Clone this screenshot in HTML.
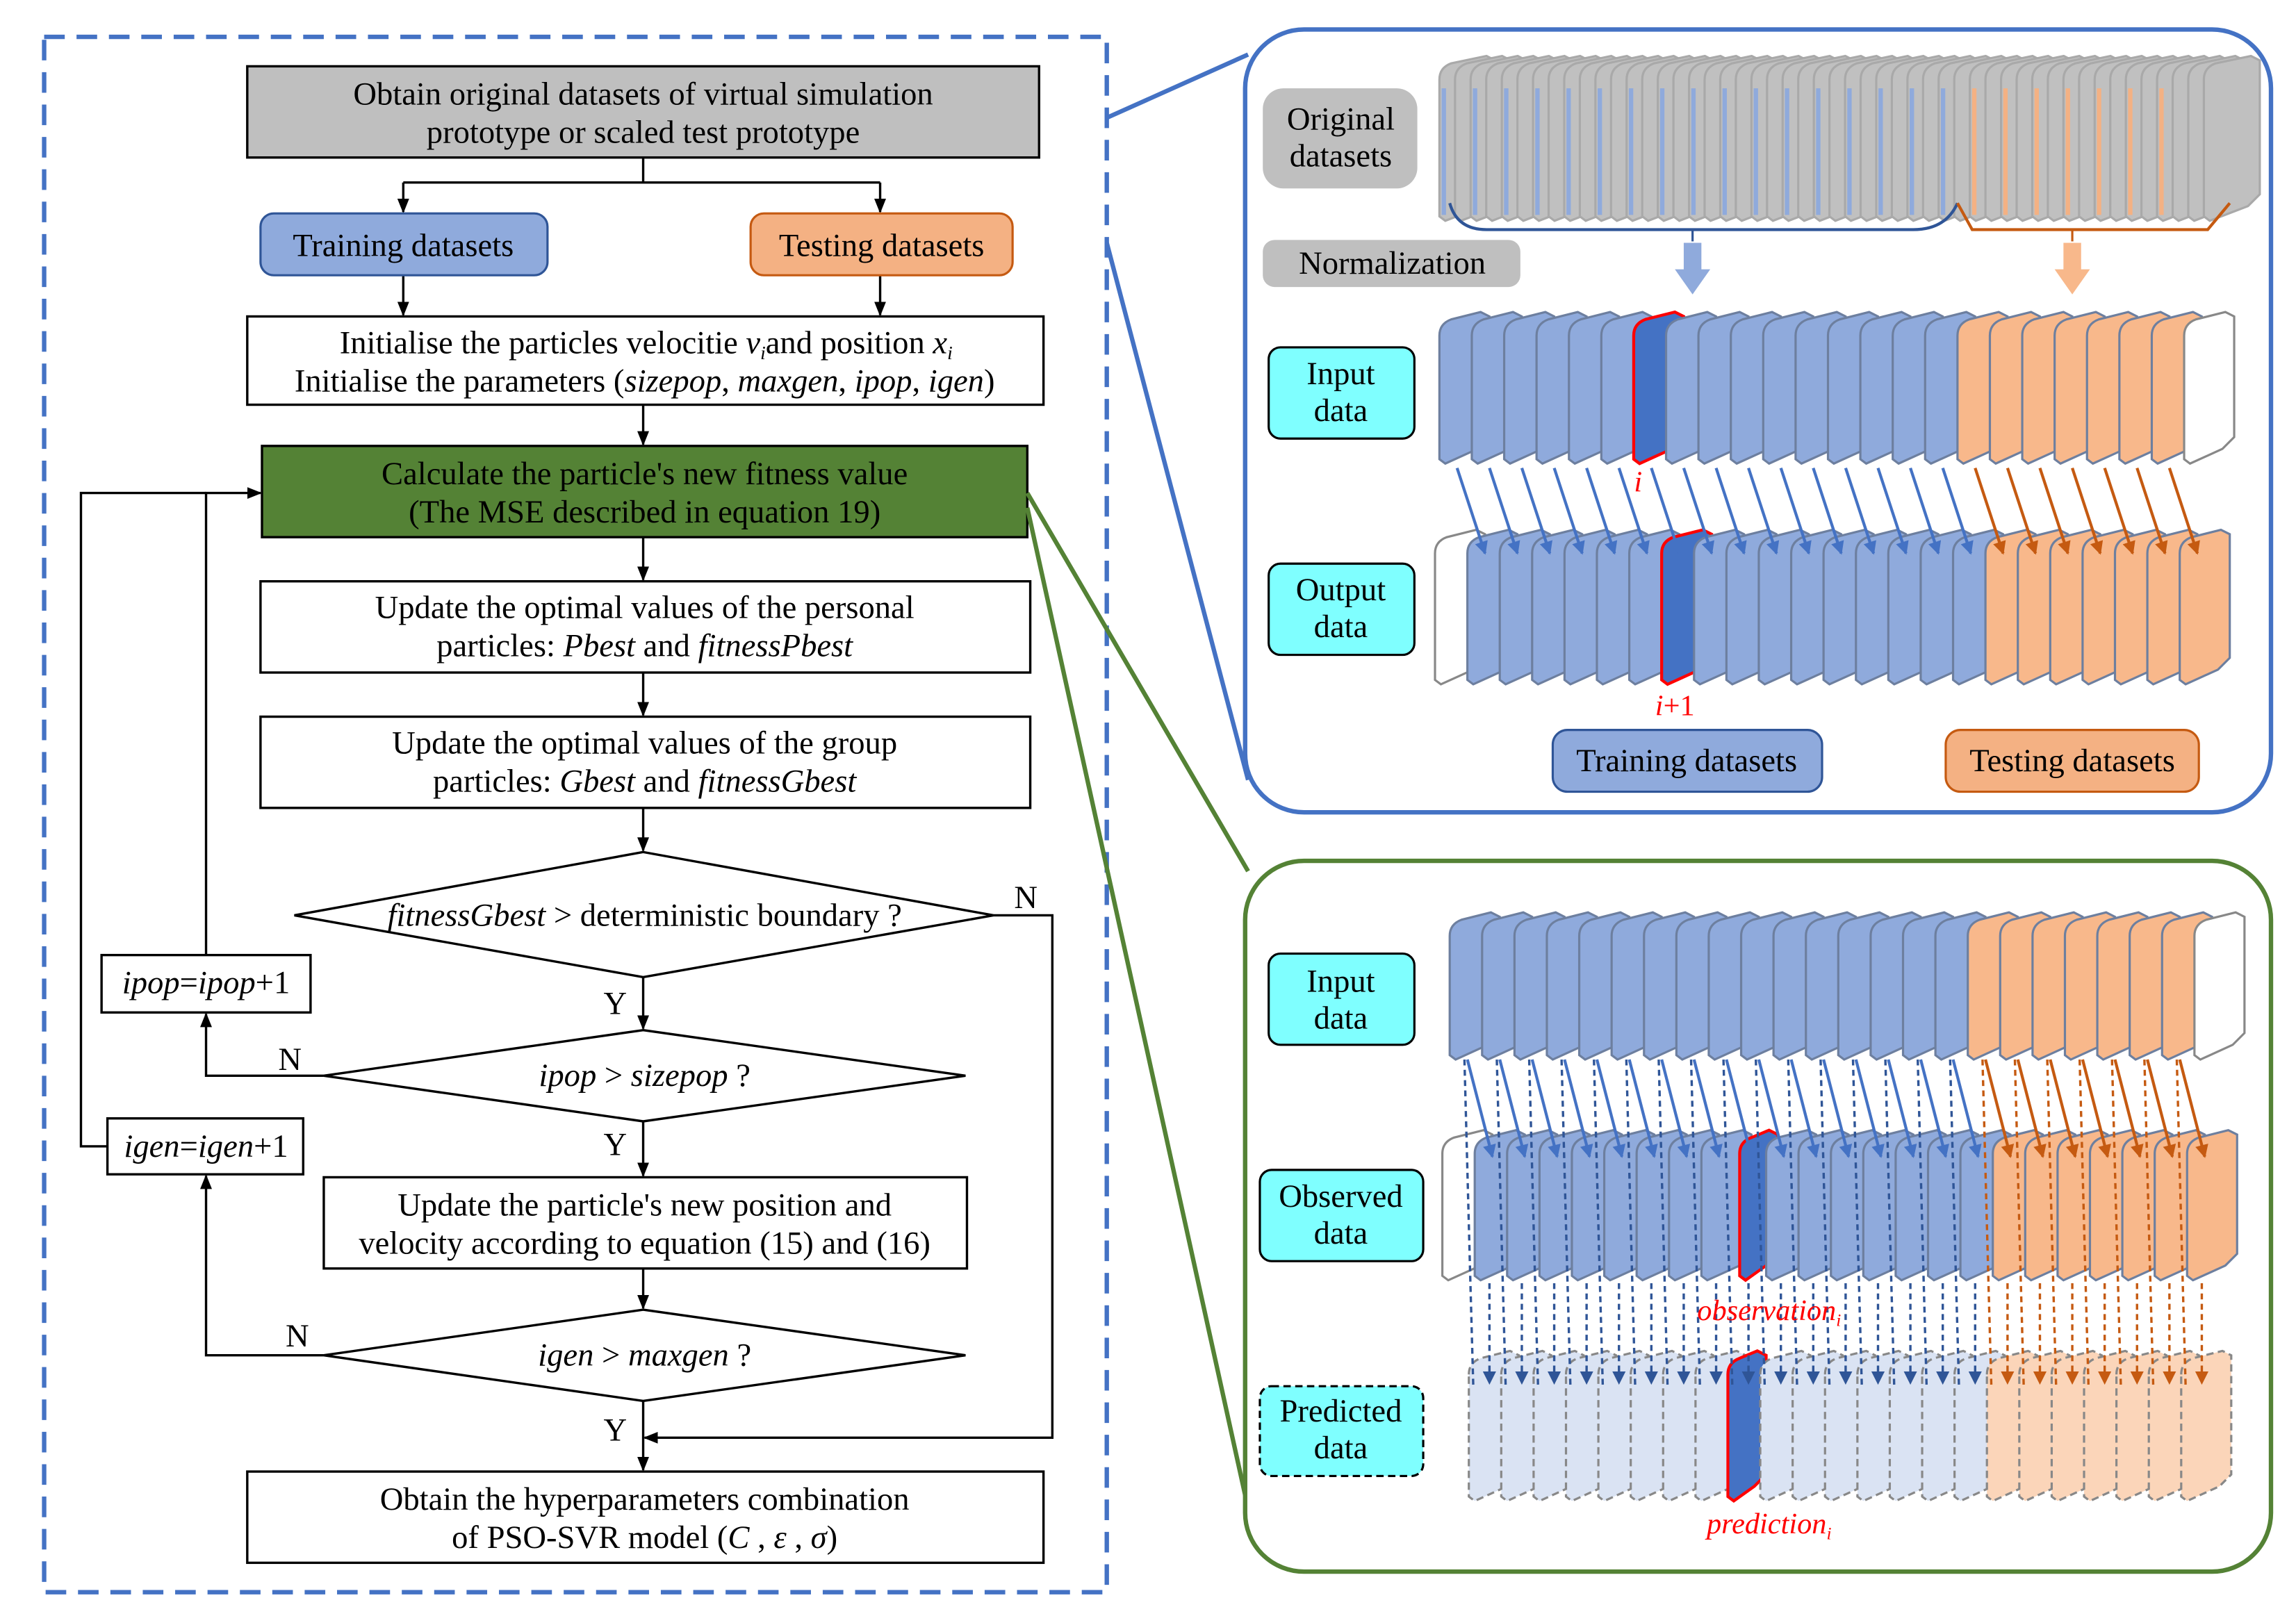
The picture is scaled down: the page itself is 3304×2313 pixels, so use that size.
<!DOCTYPE html>
<html><head><meta charset="utf-8"><style>
html,body{margin:0;padding:0;background:#fff}
svg{display:block}
text{font-family:"Liberation Serif",serif;fill:#000}
</style></head><body>
<svg id="s" xmlns="http://www.w3.org/2000/svg" width="3304" height="2313" viewBox="0 0 1560 1092">
<defs>
<marker id="ak" markerWidth="10" markerHeight="10" refX="9" refY="5" orient="auto" markerUnits="userSpaceOnUse"><path d="M0,1 L10,5 L0,9 Z" fill="#000"/></marker>
<marker id="ab" markerWidth="9" markerHeight="9" refX="8" refY="4.5" orient="auto" markerUnits="userSpaceOnUse"><path d="M0,0 L9,4.5 L0,9 Z" fill="#4472c4"/></marker>
<marker id="ab2" markerWidth="9" markerHeight="9" refX="8" refY="4.5" orient="auto" markerUnits="userSpaceOnUse"><path d="M0,0 L9,4.5 L0,9 Z" fill="#2f5597"/></marker>
<marker id="ao" markerWidth="9" markerHeight="9" refX="8" refY="4.5" orient="auto" markerUnits="userSpaceOnUse"><path d="M0,0 L9,4.5 L0,9 Z" fill="#c55a11"/></marker>
</defs>
<rect width="1560" height="1092" fill="#fff"/>
<rect x="30" y="25" width="722" height="1057" fill="none" stroke="#4472c4" stroke-width="3" stroke-dasharray="14,8"/>

<g stroke="#000" stroke-width="1.6" fill="none">
<rect x="168" y="45" width="538" height="62" fill="#bfbfbf"/>
<path d="M437,107 V124 M274,124 H598"/>
<path d="M274,124 V144" marker-end="url(#ak)"/>
<path d="M598,124 V144" marker-end="url(#ak)"/>
<path d="M274,187 V214" marker-end="url(#ak)"/>
<path d="M598,187 V214" marker-end="url(#ak)"/>
<rect x="168" y="215" width="541" height="60" fill="#fff"/>
<path d="M437,275 V302" marker-end="url(#ak)"/>
<rect x="178" y="303" width="520" height="62" fill="#548235"/>
<path d="M437,365 V394" marker-end="url(#ak)"/>
<rect x="177" y="395" width="523" height="62" fill="#fff"/>
<path d="M437,457 V486" marker-end="url(#ak)"/>
<rect x="177" y="487" width="523" height="62" fill="#fff"/>
<path d="M437,549 V578" marker-end="url(#ak)"/>
<polygon points="437,579 675,622 437,664 200,622" fill="#fff"/>
<path d="M675,622 H715 V977 H438" marker-end="url(#ak)"/>
<path d="M437,664 V699" marker-end="url(#ak)"/>
<polygon points="437,700 656,731 437,762 220,731" fill="#fff"/>
<path d="M220,731 H140 V689" marker-end="url(#ak)"/>
<rect x="69" y="649" width="142" height="39" fill="#fff"/>
<path d="M140,649 V335 H177" marker-end="url(#ak)"/>
<path d="M437,762 V799" marker-end="url(#ak)"/>
<rect x="220" y="800" width="437" height="62" fill="#fff"/>
<path d="M437,862 V889" marker-end="url(#ak)"/>
<polygon points="437,890 656,921 437,952 220,921" fill="#fff"/>
<path d="M220,921 H140 V799" marker-end="url(#ak)"/>
<rect x="73" y="760" width="133" height="38" fill="#fff"/>
<path d="M73,779 H55 V335 H140"/>
<path d="M437,952 V999" marker-end="url(#ak)"/>
<rect x="168" y="1000" width="541" height="62" fill="#fff"/>
</g>
<rect x="177" y="145" width="195" height="42" rx="9" fill="#8faadc" stroke="#2f5597" stroke-width="1.5"/>
<rect x="510" y="145" width="178" height="42" rx="9" fill="#f4b183" stroke="#c55a11" stroke-width="1.5"/>

<g font-size="22" text-anchor="middle">
<text x="437" y="71">Obtain original datasets of virtual simulation</text>
<text x="437" y="97">prototype or scaled test prototype</text>
<text x="274" y="174">Training datasets</text>
<text x="599" y="174">Testing datasets</text>
<text x="439" y="240">Initialise the particles velocitie <tspan font-style="italic">v</tspan><tspan font-style="italic" font-size="13" dy="4">i</tspan><tspan dy="-4">and position   </tspan><tspan font-style="italic">x</tspan><tspan font-style="italic" font-size="13" dy="4">i</tspan></text>
<text x="438" y="266">Initialise the parameters (<tspan font-style="italic">sizepop</tspan>, <tspan font-style="italic">maxgen</tspan>, <tspan font-style="italic">ipop</tspan>, <tspan font-style="italic">igen</tspan>)</text>
<text x="438" y="329">Calculate the particle's new fitness value</text>
<text x="438" y="355">(The MSE described in equation 19)</text>
<text x="438" y="420">Update the optimal values of the personal</text>
<text x="438" y="446">particles: <tspan font-style="italic">Pbest</tspan> and <tspan font-style="italic">fitnessPbest</tspan></text>
<text x="438" y="512">Update the optimal values of the group</text>
<text x="438" y="538">particles: <tspan font-style="italic">Gbest</tspan> and <tspan font-style="italic">fitnessGbest</tspan></text>
<text x="438" y="629"><tspan font-style="italic">fitnessGbest</tspan> &gt; deterministic boundary ?</text>
<text x="438" y="738"><tspan font-style="italic">ipop</tspan> &gt; <tspan font-style="italic">sizepop</tspan> ?</text>
<text x="438" y="826">Update the particle's new position and</text>
<text x="438" y="852">velocity according to equation (15) and (16)</text>
<text x="438" y="928"><tspan font-style="italic">igen</tspan> &gt; <tspan font-style="italic">maxgen</tspan> ?</text>
<text x="438" y="1026">Obtain the hyperparameters combination</text>
<text x="438" y="1052">of PSO-SVR model (<tspan font-style="italic">C</tspan> , <tspan font-style="italic">ε</tspan> , <tspan font-style="italic">σ</tspan>)</text>
<text x="140" y="675"><tspan font-style="italic">ipop</tspan>=<tspan font-style="italic">ipop</tspan>+1</text>
<text x="140" y="786"><tspan font-style="italic">igen</tspan>=<tspan font-style="italic">igen</tspan>+1</text>
<text x="697" y="617">N</text>
<text x="418" y="689">Y</text>
<text x="197" y="727">N</text>
<text x="418" y="785">Y</text>
<text x="202" y="915">N</text>
<text x="418" y="979">Y</text>
</g>

<path d="M752,80 L848,37 M752,165 L848,530" stroke="#4472c4" stroke-width="3" fill="none"/>
<path d="M698,335 L848,592 M698,345 L848,1025" stroke="#548235" stroke-width="3" fill="none"/>

<rect x="846" y="20" width="697" height="532" rx="40" fill="#fff" stroke="#4472c4" stroke-width="3"/>
<rect x="846" y="585" width="697" height="483" rx="40" fill="#fff" stroke="#548235" stroke-width="3"/>

<g id="cards"></g>

<rect x="858" y="60" width="105" height="68" rx="14" fill="#bfbfbf"/>
<rect x="858" y="163" width="175" height="32" rx="8" fill="#bfbfbf"/>
<rect x="862" y="236" width="99" height="62" rx="8" fill="#7fffff" stroke="#000" stroke-width="1.5"/>
<rect x="862" y="383" width="99" height="62" rx="8" fill="#7fffff" stroke="#000" stroke-width="1.5"/>
<rect x="1055" y="496" width="183" height="42" rx="10" fill="#8faadc" stroke="#2f5597" stroke-width="1.5"/>
<rect x="1322" y="496" width="172" height="42" rx="10" fill="#f4b183" stroke="#c55a11" stroke-width="1.5"/>
<rect x="862" y="648" width="99" height="62" rx="8" fill="#7fffff" stroke="#000" stroke-width="1.5"/>
<rect x="856" y="795" width="111" height="62" rx="8" fill="#7fffff" stroke="#000" stroke-width="1.5"/>
<rect x="856" y="942" width="111" height="61" rx="8" fill="#7fffff" stroke="#000" stroke-width="1.5" stroke-dasharray="5,3"/>
<g font-size="22" text-anchor="middle">
<text x="911" y="88">Original</text><text x="911" y="113">datasets</text>
<text x="946" y="186">Normalization</text>
<text x="911" y="261">Input</text><text x="911" y="286">data</text>
<text x="911" y="408">Output</text><text x="911" y="433">data</text>
<text x="1146" y="524">Training datasets</text>
<text x="1408" y="524">Testing datasets</text>
<text x="911" y="674">Input</text><text x="911" y="699">data</text>
<text x="911" y="820">Observed</text><text x="911" y="845">data</text>
<text x="911" y="966">Predicted</text><text x="911" y="991">data</text>
</g>
<g font-size="20" font-style="italic" text-anchor="middle">
<text x="1113" y="334" style="fill:#ff0000">i</text>
<text x="1138" y="486" style="fill:#ff0000">i<tspan font-style="normal">+1</tspan></text>
<text x="1202" y="897" style="fill:#ff0000">observation<tspan font-size="12" dy="4">i</tspan></text>
<text x="1202" y="1042" style="fill:#ff0000">prediction<tspan font-size="12" dy="4">i</tspan></text>
</g>

<script><![CDATA[
var NS="http://www.w3.org/2000/svg",G=document.getElementById("cards");
function el(t,a){var e=document.createElementNS(NS,t);for(var k in a)e.setAttribute(k,a[k]);G.appendChild(e);return e;}
function card(x,y,w,h,fill,stroke,dash,sw){
 var d="M"+x+","+(y+16)+" Q"+x+","+(y+8)+" "+(x+8)+","+(y+5)+" L"+(x+w-6)+","+y+" L"+(x+w)+","+(y+3)+" L"+(x+w)+","+(y+h-18)+" L"+(x+w-8)+","+(y+h-10)+" L"+(x+4)+","+(y+h)+" L"+x+","+(y+h-3)+" Z";
 var a={d:d,fill:fill,stroke:stroke,"stroke-width":sw||1.5};if(dash)a["stroke-dasharray"]=dash;el("path",a);
}
var B="#8faadc",BS="#6d7f9f",O="#f8b88b",OS="#9c8070",DB="#4472c4";
for(var i=0;i<50;i++){var x=978+i*10.6;card(x,38,38,112,"#c0c0c0","#a9a9a9");
 if(i%2==0&&i<48){el("path",{d:"M"+(x+3)+",60 V146",stroke:i<34?"#8faadc":"#f4b183","stroke-width":3,fill:"none"});}}
el("path",{d:"M985,138 Q990,156 1010,156 L1300,156 Q1322,156 1330,138",stroke:"#2f5597","stroke-width":2,fill:"none"});
el("path",{d:"M1330,138 L1340,156 L1500,156 L1515,138",stroke:"#c55a11","stroke-width":2,fill:"none"});
el("path",{d:"M1150,156 V164",stroke:"#2f5597","stroke-width":1.5});
el("path",{d:"M1408,156 V164",stroke:"#c55a11","stroke-width":1.5});
el("path",{d:"M1144,165 H1156 V183 H1162 L1150,200 L1138,183 H1144 Z",fill:"#8faadc"});
el("path",{d:"M1402,165 H1414 V183 H1420 L1408,200 L1396,183 H1402 Z",fill:"#f8b88b"});
var st=22,W=34;
for(var i=0;i<24;i++){var x=978+i*st;var f=i<16?B:(i<23?O:"#fff");var s=i<23?BS:"#888";
 if(i==6)card(x,212,W,103,DB,"#ff0000",null,2);else card(x,212,W,103,f,s);}
for(var i=0;i<24;i++){var x=975+i*st;var f=i==0?"#fff":(i<17?B:O);var s=i==0?"#888":BS;
 if(i==7)card(x,360,W,105,DB,"#ff0000",null,2);else card(x,360,W,105,f,s);}
for(var i=0;i<23;i++){var x0=978+i*st+12,x1=975+(i+1)*st+12;
 el("path",{d:"M"+x0+",318 L"+x1+",376",stroke:i<16?DB:"#c55a11","stroke-width":2,fill:"none","marker-end":i<16?"url(#ab)":"url(#ao)"});}
for(var i=0;i<24;i++){var x=985+i*st;var f=i<16?B:(i<23?O:"#fff");var s=i<23?BS:"#888";card(x,620,W,100,f,s);}
for(var i=0;i<23;i++){var x=998+i*st;var f=i<16?"#dae3f3":"#fbd5b9";
 if(i==8)card(x,918,W-8,102,DB,"#ff0000",null,2);else card(x,918,W,102,f,"#888","5,3");}
for(var i=0;i<24;i++){var x=980+i*st;var f=i==0?"#fff":(i<17?B:O);var s=i==0?"#888":BS;
 if(i==9)card(x+4,768,W-8,102,DB,"#ff0000",null,2);else card(x,768,W,102,f,s);}
for(var i=0;i<23;i++){var x0=985+i*st+12,x1=980+(i+1)*st+12,c=i<16;
 el("path",{d:"M"+x0+",720 L"+x1+",786",stroke:c?DB:"#c55a11","stroke-width":2,fill:"none","marker-end":c?"url(#ab)":"url(#ao)"});
 el("path",{d:"M"+(x0-2)+",720 L"+(x0+2)+",870 L"+(x0+4)+",942",stroke:c?"#2f5597":"#c55a11","stroke-width":1.6,"stroke-dasharray":"4,3",fill:"none"});
 el("path",{d:"M"+(x1-2)+",872 L"+(998+i*st+14)+",940",stroke:c?"#2f5597":"#c55a11","stroke-width":1.6,"stroke-dasharray":"4,3",fill:"none","marker-end":c?"url(#ab2)":"url(#ao)"});}
]]></script>
</svg>
</body></html>
